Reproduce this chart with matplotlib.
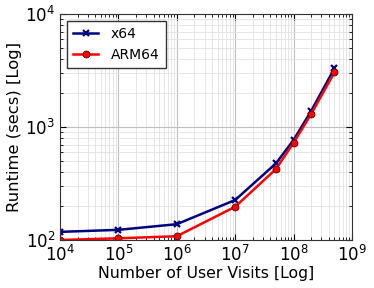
import matplotlib
matplotlib.use("Agg")
import matplotlib.pyplot as plt

visits = [1e4, 1e5, 1e6, 1e7, 5e7, 1e8, 2e8, 5e8]
x64 = [118, 123, 138, 226, 477, 768, 1387, 3300]
arm64 = [100, 103.5, 108, 197, 425, 726, 1303, 3050]

plt.rcParams['font.family'] = 'DejaVu Sans'
fig = plt.figure(figsize=(3.74, 2.88), dpi=100)
ax = fig.add_axes([60/374, 48/288, 292/374, 226/288])

ax.plot(visits, x64, color='navy', marker='x', markersize=5, mew=1.6, lw=1.8, label='x64')
ax.plot(visits, arm64, color='red', marker='o', markersize=5, mec='#550000', mew=0.6, lw=1.8, label='ARM64')
ax.set_xscale('log')
ax.set_yscale('log')
ax.set_xlim(1e4, 1e9)
ax.set_ylim(1e2, 1e4)
ax.grid(True, which='major', color='#c0c0c0', lw=0.8)
ax.grid(True, which='minor', color='#e2e2e2', lw=0.6)
ax.set_axisbelow(True)
ax.tick_params(which='both', direction='in', top=True, right=True, labelsize=12)
ax.tick_params(which='major', length=4)
ax.tick_params(which='minor', length=2)
for s in ax.spines.values():
    s.set_color('#333333')
ax.set_xlabel('Number of User Visits [Log]', fontsize=11.3, labelpad=1)
ax.set_ylabel('Runtime (secs) [Log]', fontsize=11.8, labelpad=2)
leg = ax.legend(loc='upper left', fontsize=10, fancybox=False, edgecolor='#333333',
                framealpha=1, borderaxespad=0.5, handlelength=1.8, handletextpad=0.9,
                borderpad=0.45)
leg.get_frame().set_linewidth(1)
fig.savefig('out.png', dpi=100)
